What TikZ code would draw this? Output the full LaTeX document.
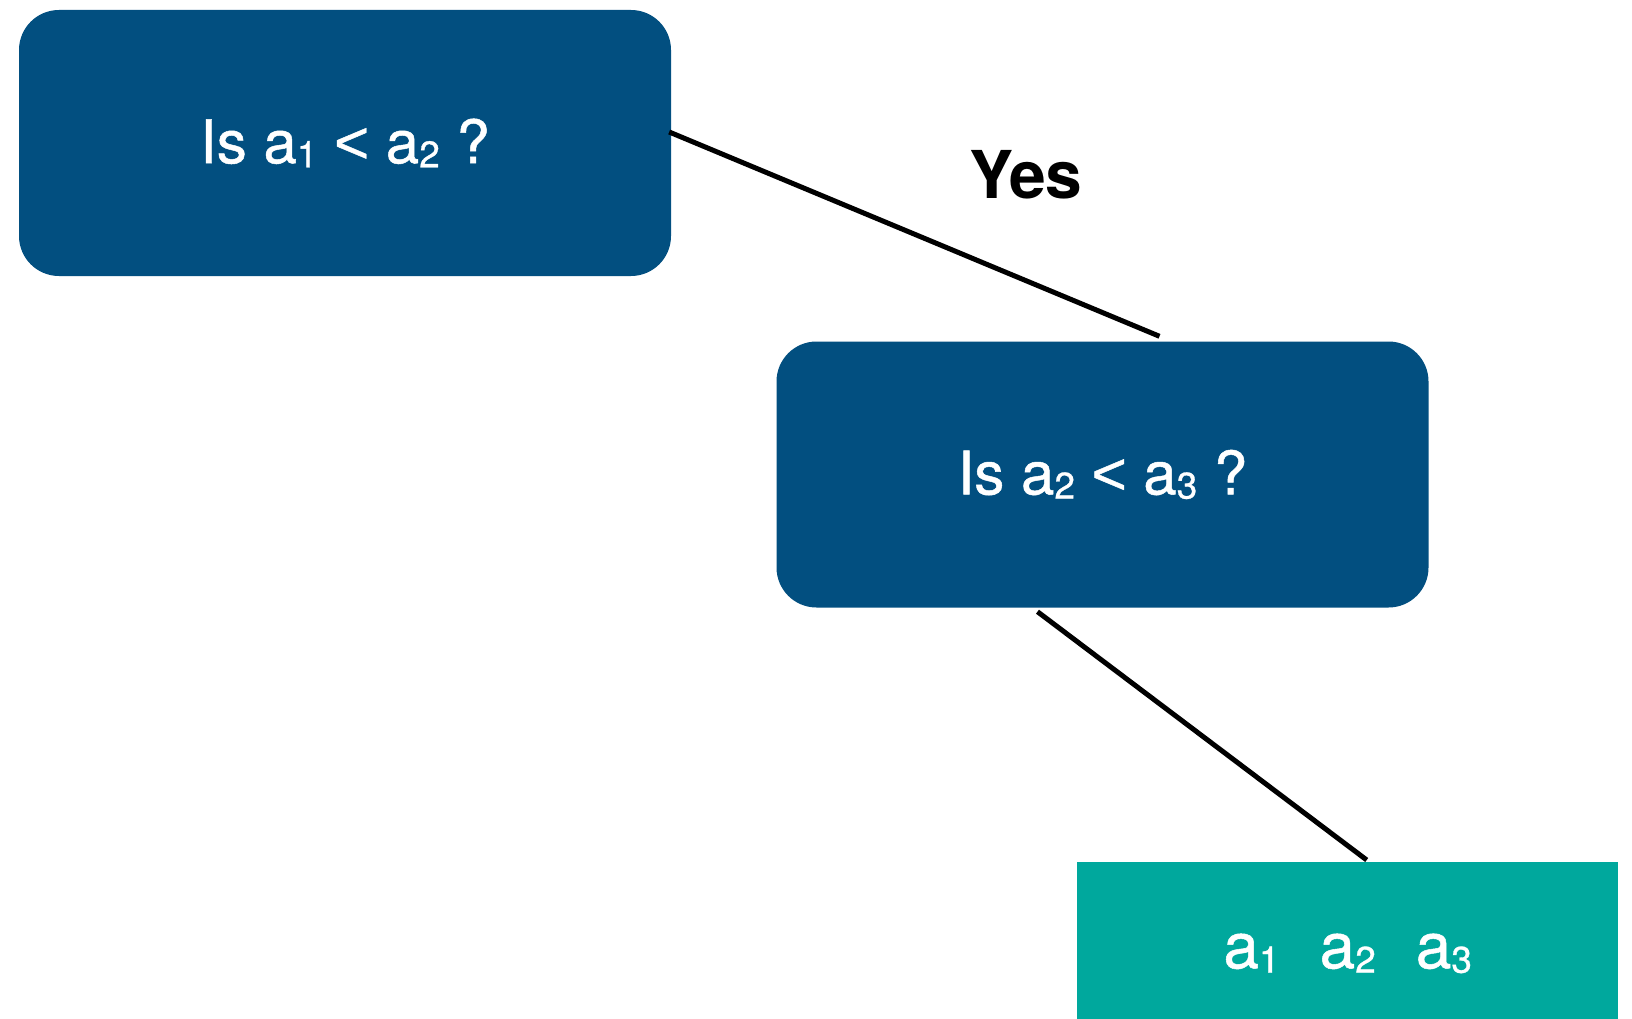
\documentclass[tikz,border=0pt]{standalone}
\usepackage{fontspec}
\setmainfont{TeX Gyre Heros}
\newfontfamily\boxfont{TeX Gyre Heros}[FakeBold=0.8]
\newfontfamily\relfont{Liberation Sans}[FakeBold=0.8]
\usetikzlibrary{calc}
\definecolor{deepblue}{RGB}{2,79,128}
\definecolor{leafteal}{RGB}{0,168,157}
% subscript digit, set smaller and slightly lowered
\newcommand{\idx}[1]{\raisebox{-0.07em}{\fontsize{37}{37}\selectfont #1}}
% less-than sign
\newcommand{\lessthan}{{\relfont <}}
\tikzset{
  question/.style={fill=deepblue, rounded corners=40pt, text=white,
    minimum width=652pt, minimum height=266pt, inner sep=0pt,
    font=\boxfont\fontsize{60}{60}\selectfont},
  leaf/.style={fill=leafteal, text=white, minimum width=541pt,
    minimum height=157pt, inner sep=0pt, anchor=north west,
    text height=55pt, text depth=0pt,
    font=\boxfont\fontsize{64}{64}\selectfont},
  branch/.style={draw=black, line width=5pt},
  edgelabel/.style={font=\fontsize{66}{66}\selectfont\bfseries}
}
\begin{document}
\begin{tikzpicture}[x=1pt,y=-1pt]
  \useasboundingbox (0,0) rectangle (1632,1019);
  \fill[white] (0,0) rectangle (1632,1019);
  % decision nodes
  \node[question] (q1) at (345,143) {Is a\idx{1} \lessthan{} a\idx{2} ?};
  \node[question] (q2) at (1102.5,474.5) {Is a\idx{2} \lessthan{} a\idx{3} ?};
  % leaf with the sorted order
  \node[leaf] (l1) at (1077,862)
    {a\idx{1}\hspace{40pt}a\idx{2}\hspace{40pt}a\idx{3}};
  % edge label
  \node[edgelabel] (yes) at (1026,175) {Yes};
  % branches
  \draw[branch] ($(q1.east)+(-2,-11)$) -- ($(q2.north)+(57,-5)$);
  \draw[branch] ($(q2.south)+(-65,4)$) -- ($(l1.north)+(19,-2)$);
\end{tikzpicture}
\end{document}
